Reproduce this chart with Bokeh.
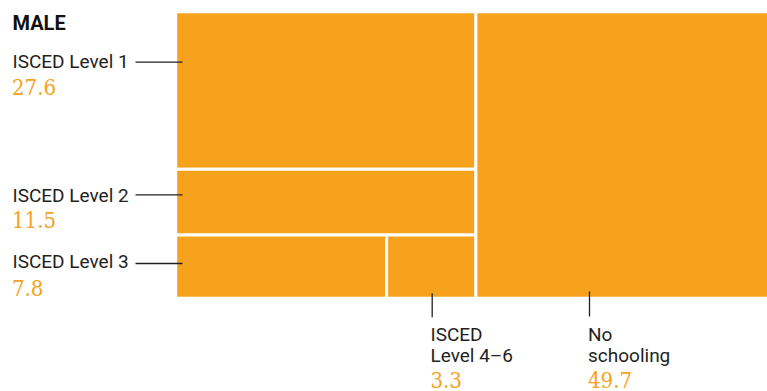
from bokeh.plotting import figure
from bokeh.models import Range1d, ColumnDataSource
from bokeh.core.properties import value
from bokeh.embed import file_html
from bokeh.resources import INLINE

title = "MALE"
categories = ["ISCED Level 1", "ISCED Level 2", "ISCED Level 3", "ISCED Level 4–6", "No schooling"]
values = [27.6, 11.5, 7.8, 3.3, 49.7]
value_labels = ["27.6", "11.5", "7.8", "3.3", "49.7"]

ORANGE = "#F7A21C"
DARK = "#231f20"
NUM_FONT = value("'DejaVu Serif Condensed', 'DejaVu Serif'")

W, H = 767, 391
p = figure(width=W, height=H, output_backend="svg", toolbar_location=None,
           x_range=Range1d(0, 767), y_range=Range1d(391, 0), min_border=0)
p.axis.visible = False
p.grid.visible = False
p.outline_line_color = None
p.background_fill_color = "white"

# treemap area (outer stroke lines) in chart coordinates
X0, X1, Y0, Y1 = 175.2, 772.6, 11.2, 297.8
total = sum(values)
v1, v2, v3, v46, vns = values
xs = X0 + (X1 - X0) * (total - vns) / total
left_total = v1 + v2 + v3 + v46
ya = Y0 + (Y1 - Y0) * v1 / left_total
yb = ya + (Y1 - Y0) * v2 / left_total
xm = X0 + (xs - X0) * v3 / (v3 + v46)

rects = ColumnDataSource(dict(
    left=[X0, X0, X0, xm, xs],
    right=[xs, xs, xm, xs, X1],
    top=[Y0, ya, yb, yb, Y0],
    bottom=[ya, yb, Y1, Y1, Y1],
    name=categories,
))
p.quad(left="left", right="right", top="top", bottom="bottom", source=rects,
       fill_color=ORANGE, line_color="white", line_width=3)

# title
p.text(x=[12], y=[22], text=[title], text_font=value("Roboto"), text_font_style="bold",
       text_font_size="20px", text_color="#111111", text_baseline="middle")

# left labels (y = vertical middle of the text)
lab_y = [61.3, 195.0, 261.0]
val_y = [86.3, 219.5, 287.7]
line_y = [61.7, 194.3, 263.0]
p.text(x=[12] * 3, y=lab_y, text=categories[:3], text_font=value("Roboto"),
       text_font_size="19px", text_color=DARK, text_baseline="middle")
p.text(x=[11.5] * 3, y=val_y, text=value_labels[:3], text_font=NUM_FONT,
       text_font_size="22px", text_color=ORANGE, text_baseline="middle")
p.segment(x0=[135] * 3, x1=[182] * 3, y0=line_y, y1=line_y, line_color=DARK, line_width=1.3)

# bottom labels
bx = [430, 587.5]
line_x = [431.7, 589.0]
p.segment(x0=line_x, x1=line_x, y0=[292.7, 291.0], y1=[316.7, 316.0], line_color=DARK, line_width=1.3)
p.text(x=bx, y=[334.0, 334.0], text=["ISCED", "No"], text_font=value("Roboto"),
       text_font_size="19px", text_color=DARK, text_baseline="middle")
p.text(x=bx, y=[355.0, 355.0], text=["Level 4–6", "schooling"], text_font=value("Roboto"),
       text_font_size="19px", text_color=DARK, text_baseline="middle")
p.text(x=bx, y=[379.0, 379.0], text=value_labels[3:], text_font=NUM_FONT,
       text_font_size="22px", text_color=ORANGE, text_baseline="middle")

open("out.html", "w").write(file_html(p, INLINE))
